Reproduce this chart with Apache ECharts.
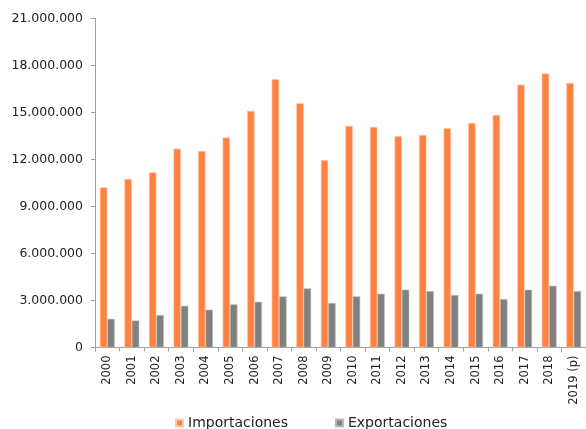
<!DOCTYPE html>
<html>
<head>
<meta charset="utf-8">
<script src="https://cdn.jsdelivr.net/npm/echarts@6/dist/echarts.min.js"></script>
<style>html,body{margin:0;padding:0;background:#fff}#c{width:586px;height:429px}</style>
</head>
<body>
<div id="c"></div>
<script>
var categories = ['2000','2001','2002','2003','2004','2005','2006','2007','2008','2009','2010','2011','2012','2013','2014','2015','2016','2017','2018','2019 (p)'];
var importaciones = [10220000,10760000,11180000,12690000,12550000,13400000,15100000,17120000,15590000,11950000,14140000,14080000,13480000,13570000,13990000,14330000,14850000,16780000,17490000,16890000];
var exportaciones = [1830000,1720000,2070000,2660000,2410000,2750000,2920000,3260000,3770000,2840000,3260000,3430000,3690000,3600000,3350000,3430000,3090000,3690000,3940000,3600000];
var seriesNames = ['Importaciones','Exportaciones'];

function fmt(v){ return String(v).replace(/\B(?=(\d{3})+(?!\d))/g,'.'); }

var chart = echarts.init(document.getElementById('c'), null, {renderer:'canvas'});
chart.setOption({
  animation:false,
  textStyle:{fontFamily:'DejaVu Sans'},
  grid:{left:95,right:-1.5,top:18.5,bottom:81.5,containLabel:false},
  legend:{
    data:seriesNames, left:175, top:416, padding:0, itemWidth:7, itemHeight:7, itemGap:47,
    icon:'rect',
    textStyle:{fontFamily:'DejaVu Sans',fontSize:14,color:'#222'}
  },
  xAxis:{
    type:'category', data:categories, boundaryGap:true,
    axisLine:{lineStyle:{color:'#a0a0a0',width:1}},
    axisTick:{show:true,length:4,alignWithLabel:false,lineStyle:{color:'#a0a0a0'}},
    axisLabel:{rotate:90,interval:0,fontFamily:'DejaVu Sans',fontSize:11.5,color:'#222',margin:8}
  },
  yAxis:{
    type:'value', min:0, max:21000000, interval:3000000,
    axisLine:{show:true,lineStyle:{color:'#a0a0a0',width:1}},
    axisTick:{show:true,length:4,lineStyle:{color:'#a0a0a0'}},
    splitLine:{show:false},
    axisLabel:{fontFamily:'DejaVu Sans',fontSize:12.5,color:'#222',margin:12,formatter:function(v){return fmt(v);}}
  },
  series:[
    {name:seriesNames[0],type:'bar',data:importaciones,barWidth:7.4,barGap:'0%',
     itemStyle:{color:'#FF8243',borderColor:'#ffc9a8',borderWidth:0.6}},
    {name:seriesNames[1],type:'bar',data:exportaciones,barWidth:7.4,barGap:'0%',
     itemStyle:{color:'#808080',borderColor:'#b8b8b8',borderWidth:0.6}}
  ]
});
</script>
</body>
</html>
